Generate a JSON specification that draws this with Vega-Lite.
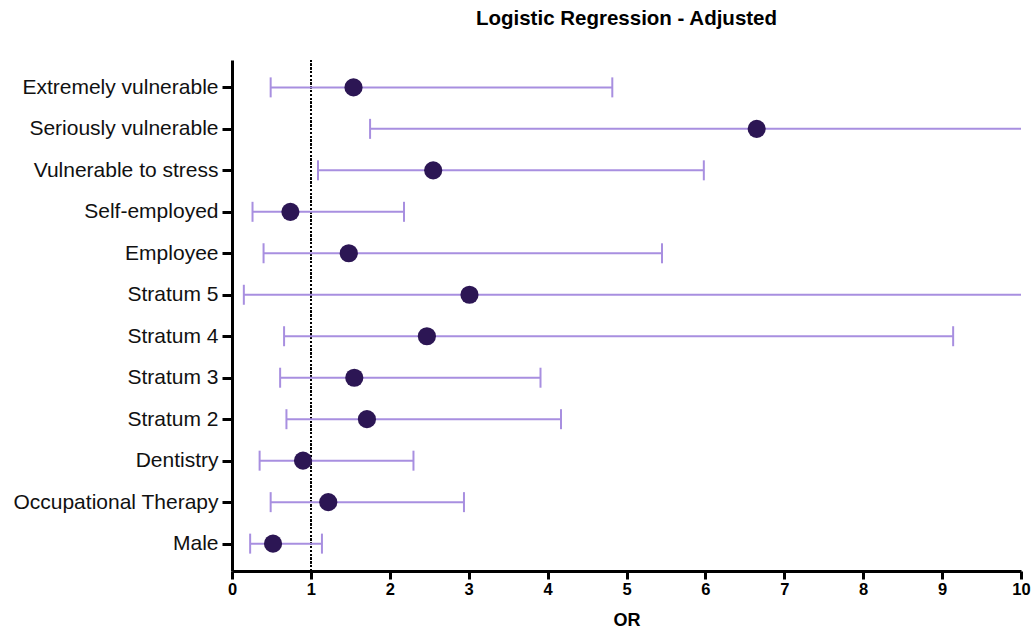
{
  "$schema": "https://vega.github.io/schema/vega-lite/v6.json",
  "autosize": "none",
  "width": 789,
  "height": 511,
  "padding": {"left": 232, "top": 60, "right": 12, "bottom": 60},
  "background": "white",
  "title": {
    "text": "Logistic Regression - Adjusted",
    "font": "Liberation Sans",
    "fontSize": 20.5,
    "fontWeight": "bold",
    "color": "#000000",
    "anchor": "middle",
    "offset": 30
  },
  "data": {
    "values": [
      {"var": "Extremely vulnerable", "or": 1.54, "lo": 0.49, "hi": 4.82},
      {"var": "Seriously vulnerable", "or": 6.65, "lo": 1.75, "hi": 25.3},
      {"var": "Vulnerable to stress", "or": 2.55, "lo": 1.09, "hi": 5.98},
      {"var": "Self-employed", "or": 0.74, "lo": 0.26, "hi": 2.18},
      {"var": "Employee", "or": 1.48, "lo": 0.40, "hi": 5.45},
      {"var": "Stratum 5", "or": 3.01, "lo": 0.15, "hi": 58.6},
      {"var": "Stratum 4", "or": 2.47, "lo": 0.66, "hi": 9.14},
      {"var": "Stratum 3", "or": 1.55, "lo": 0.61, "hi": 3.91},
      {"var": "Stratum 2", "or": 1.71, "lo": 0.69, "hi": 4.17},
      {"var": "Dentistry", "or": 0.90, "lo": 0.35, "hi": 2.30},
      {"var": "Occupational Therapy", "or": 1.22, "lo": 0.49, "hi": 2.94},
      {"var": "Male", "or": 0.52, "lo": 0.23, "hi": 1.14}
    ]
  },
  "encoding": {
    "y": {
      "field": "var",
      "type": "nominal",
      "sort": null,
      "scale": {"type": "point", "padding": 0.66},
      "axis": {
        "title": null,
        "domainColor": "#000000",
        "domainWidth": 3,
        "tickColor": "#000000",
        "tickWidth": 3,
        "tickSize": 10,
        "labelFont": "Liberation Sans",
        "labelFontSize": 21,
        "labelColor": "#111111",
        "labelPadding": 4,
        "labelLimit": 300,
        "grid": false
      }
    }
  },
  "layer": [
    {
      "mark": {"type": "rule", "color": "#000000", "strokeWidth": 1.6, "strokeDash": [1.6, 2.2]},
      "encoding": {"x": {"datum": 1, "type": "quantitative"}, "y": null}
    },
    {
      "mark": {"type": "rule", "color": "#a88fe0", "strokeWidth": 2, "clip": true},
      "encoding": {
        "x": {
          "field": "lo",
          "type": "quantitative",
          "scale": {"domain": [0, 10], "nice": false, "zero": false},
          "axis": {
            "title": "OR",
            "values": [0, 1, 2, 3, 4, 5, 6, 7, 8, 9, 10],
            "format": "d",
            "grid": false,
            "labelFlush": false,
            "domainColor": "#000000",
            "domainWidth": 3,
            "tickColor": "#000000",
            "tickWidth": 3,
            "tickSize": 8,
            "labelFont": "Liberation Sans",
            "labelFontSize": 16.5,
            "labelFontWeight": "bold",
            "labelColor": "#000000",
            "labelPadding": 2,
            "titleFont": "Liberation Sans",
            "titleFontSize": 18,
            "titleFontWeight": "bold",
            "titleColor": "#000000",
            "titlePadding": 14
          }
        },
        "x2": {"field": "hi"}
      }
    },
    {
      "mark": {"type": "tick", "color": "#a88fe0", "thickness": 2, "size": 20, "clip": true, "opacity": 1},
      "encoding": {"x": {"field": "lo", "type": "quantitative"}}
    },
    {
      "mark": {"type": "tick", "color": "#a88fe0", "thickness": 2, "size": 20, "clip": true, "opacity": 1},
      "encoding": {"x": {"field": "hi", "type": "quantitative"}}
    },
    {
      "mark": {"type": "point", "filled": true, "shape": "circle", "size": 330, "color": "#2c1654", "opacity": 1},
      "encoding": {"x": {"field": "or", "type": "quantitative"}}
    }
  ],
  "config": {
    "view": {"stroke": null},
    "axis": {"labelFont": "Liberation Sans", "titleFont": "Liberation Sans"}
  }
}
